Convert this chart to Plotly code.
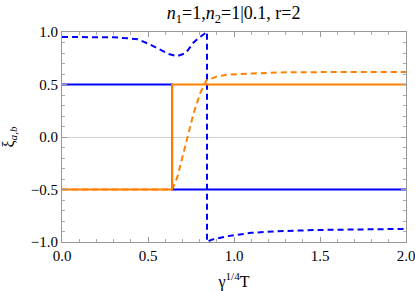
import plotly.graph_objects as go

# Solid lines (step)
step_x = [0.0, 0.64, 0.64, 2.0]
blue_solid_y = [0.5, 0.5, -0.5, -0.5]
orange_solid_y = [-0.5, -0.5, 0.5, 0.5]

# Blue dashed (upper branch, vertical jump, lower branch)
blue_dash_x = [0.0, 0.2, 0.3, 0.38, 0.44, 0.5, 0.57, 0.62, 0.67, 0.72, 0.765, 0.80, 0.843,
               0.843, 0.87, 0.9, 0.96, 1.1, 1.25, 1.5, 1.75, 2.0]
blue_dash_y = [0.952, 0.952, 0.95, 0.94, 0.93, 0.89, 0.834, 0.79, 0.77, 0.80, 0.90, 0.95, 1.0,
               -1.0, -0.978, -0.965, -0.945, -0.913, -0.897, -0.885, -0.878, -0.875]

# Orange dashed
orange_dash_x = [0.0, 0.64, 0.67, 0.70, 0.727, 0.765, 0.804, 0.84, 0.9, 0.96, 1.1, 1.27, 1.5, 2.0]
orange_dash_y = [-0.5, -0.5, -0.385, -0.19, 0.0, 0.225, 0.42, 0.54, 0.575, 0.593, 0.605, 0.615, 0.618, 0.62]

x_ticks = [0.0, 0.5, 1.0, 1.5, 2.0]
y_ticks = [-1.0, -0.5, 0.0, 0.5, 1.0]

BLUE = "rgb(0,0,255)"
ORANGE = "rgb(255,128,0)"
FONT = "Liberation Serif"

fig = go.Figure()
fig.add_trace(go.Scatter(x=blue_dash_x, y=blue_dash_y, mode="lines",
                         line=dict(color=BLUE, width=2, dash="6px,4px")))
fig.add_trace(go.Scatter(x=orange_dash_x, y=orange_dash_y, mode="lines",
                         line=dict(color=ORANGE, width=2, dash="6px,4px")))
fig.add_trace(go.Scatter(x=step_x, y=blue_solid_y, mode="lines",
                         line=dict(color=BLUE, width=2)))
fig.add_trace(go.Scatter(x=step_x, y=orange_solid_y, mode="lines",
                         line=dict(color=ORANGE, width=2)))

axis_common = dict(showline=True, linecolor="#999999", linewidth=1, mirror="allticks",
                   ticks="inside", ticklen=5, tickcolor="#999999", showgrid=False,
                   automargin=False, ticklabeloverflow="allow",
                   tickfont=dict(family=FONT, size=15, color="black"),
                   minor=dict(ticks="inside", ticklen=3, tickcolor="#aaaaaa", dtick=0.1, showgrid=False))

fig.update_xaxes(range=[0, 2], tickvals=x_ticks, tickformat=".1f", zeroline=False,
                 title=dict(text="γ<sup>1/4</sup>T", font=dict(family=FONT, size=16, color="black"), standoff=12),
                 **axis_common)
fig.update_yaxes(range=[-1, 1], tickvals=y_ticks, tickformat=".1f", zeroline=True,
                 zerolinecolor="#d0d0d0", zerolinewidth=1,
                 title=dict(text="ξ<sub><i>a,b</i></sub>", font=dict(family=FONT, size=16, color="black"), standoff=12),
                 **axis_common)

fig.update_layout(
    width=415, height=291,
    margin=dict(l=62, r=9, t=32, b=49),
    paper_bgcolor="white", plot_bgcolor="white",
    showlegend=False,
    font=dict(family=FONT, color="black"),
    title=dict(text="<i>n</i><sub>1</sub>=1,<i>n</i><sub>2</sub>=1|0.1, r=2",
               x=0.563, xanchor="center", y=0.955, yanchor="middle",
               font=dict(family=FONT, size=18, color="black")),
)

fig.write_html("out.html", config={"displayModeBar": False},
               post_script="document.body.style.margin='0';")
